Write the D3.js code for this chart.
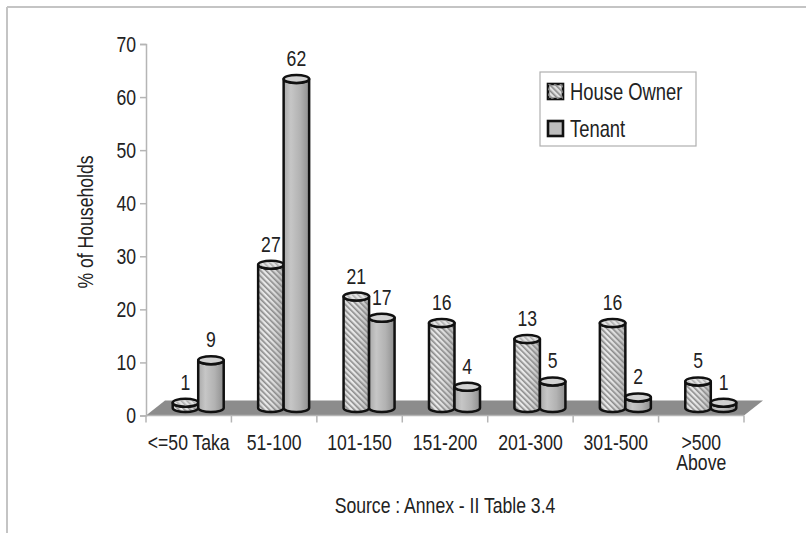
<!DOCTYPE html>
<html>
<head>
<meta charset="utf-8">
<script src="https://cdn.jsdelivr.net/npm/d3@7/dist/d3.min.js"></script>
<style>
  html, body { margin: 0; padding: 0; background: #fff; }
  svg { display: block; }
  text { font-family: "Liberation Sans", Arial, sans-serif; fill: #222; }
</style>
</head>
<body>
<svg id="chart" width="806" height="533"></svg>
<script>
// Monthly rent ranges and share of households per tenure group
const categories = ["<=50 Taka", "51-100", "101-150", "151-200", "201-300", "301-500", ">500\nAbove"];
const houseOwner = [1, 27, 21, 16, 13, 16, 5];
const tenant = [9, 62, 17, 4, 5, 2, 1];
const seriesNames = ["House Owner", "Tenant"];
const yTicks = [0, 10, 20, 30, 40, 50, 60, 70];
const sourceNote = "Source : Annex - II Table 3.4";
const yTitle = "% of Households";

const W = 806, H = 533;
const svg = d3.select("#chart");
const NARROW = 0.8; // horizontal squeeze giving a condensed sans face

// Squeeze text horizontally around its anchor point
function narrow(sel) {
  sel.each(function () {
    const t = d3.select(this);
    const tx = +(t.attr("x") || 0), ty = +(t.attr("y") || 0);
    const base = t.attr("transform") || "";
    t.attr("x", 0).attr("y", 0)
      .attr("transform", `${base} translate(${tx},${ty}) scale(${NARROW},1)`);
  });
  return sel;
}

// plot geometry
const plotL = 146, plotR = 744, plotT = 44, plotB = 415.5;
const depthX = 19, depthY = -15;              // floor receding offset
const barDX = depthX / 2, barDY = depthY / 2; // bars stand mid-depth
const capRy = 4;                              // ellipse half-height of cylinder caps

const x = d3.scaleBand().domain(categories).range([plotL, plotR]);
const y = d3.scaleLinear().domain([0, 70]).range([plotB, plotT]);
const barW = 25.5;

// ---- defs: gradients and hatch ----
const defs = svg.append("defs");
const gT = defs.append("linearGradient").attr("id", "gTenant").attr("x1", 0).attr("x2", 1).attr("y1", 0).attr("y2", 0);
[[0, "#a9a9a9"], [0.28, "#c6c6c6"], [0.65, "#b2b2b2"], [1, "#8f8f8f"]]
  .forEach(([o, c]) => gT.append("stop").attr("offset", o).attr("stop-color", c));
const gO = defs.append("linearGradient").attr("id", "gOwner").attr("x1", 0).attr("x2", 1).attr("y1", 0).attr("y2", 0);
[[0, "#d4d4d4"], [0.3, "#ececec"], [0.7, "#d6d6d6"], [1, "#b4b4b4"]]
  .forEach(([o, c]) => gO.append("stop").attr("offset", o).attr("stop-color", c));
const hatch = defs.append("pattern").attr("id", "hatch").attr("patternUnits", "userSpaceOnUse")
  .attr("width", 4).attr("height", 4).attr("patternTransform", "rotate(-45)");
hatch.append("rect").attr("x", 0).attr("y", 0).attr("width", 1.6).attr("height", 4).attr("fill", "#8a8a8a");

// ---- outer frame ----
svg.append("line").attr("x1", 7).attr("y1", 7).attr("x2", W).attr("y2", 7).attr("stroke", "#c4c4c4").attr("stroke-width", 2);
svg.append("line").attr("x1", 7).attr("y1", 7).attr("x2", 7).attr("y2", H).attr("stroke", "#c4c4c4").attr("stroke-width", 2);

// ---- floor ----
const floorPts = [[plotL, plotB], [plotR, plotB], [plotR + depthX, plotB + depthY], [plotL + depthX, plotB + depthY]];
svg.append("polygon").attr("points", floorPts.map(p => p.join(",")).join(" ")).attr("fill", "#8c8c8c");

// ---- y axis ----
const yAxis = d3.axisLeft(y).tickValues(yTicks).tickSize(6).tickPadding(4);
const gy = svg.append("g").attr("transform", `translate(${plotL},0)`).call(yAxis);
gy.select(".domain").attr("stroke", "#b5b5b5").attr("stroke-width", 1.5);
gy.selectAll(".tick line").attr("stroke", "#b5b5b5").attr("stroke-width", 1.5);
narrow(gy.selectAll(".tick text").attr("font-size", 22).attr("fill", "#222")
  .style("font-family", '"Liberation Sans", Arial, sans-serif'));

// ---- x axis (line at floor front, ticks at band boundaries) ----
svg.append("line").attr("x1", plotL).attr("x2", plotR).attr("y1", plotB).attr("y2", plotB)
  .attr("stroke", "#b5b5b5").attr("stroke-width", 1.5);
const bounds = categories.map(c => x(c)).concat([x(categories[categories.length - 1]) + x.bandwidth()]);
svg.selectAll(".xtick").data(bounds).enter().append("line")
  .attr("x1", d => d).attr("x2", d => d).attr("y1", plotB).attr("y2", plotB + 7)
  .attr("stroke", "#b5b5b5").attr("stroke-width", 1.5);
const xl = svg.selectAll(".xlab").data(categories).enter().append("text")
  .attr("text-anchor", "middle").attr("font-size", 22)
  .attr("transform", d => `translate(${x(d) + x.bandwidth() / 2},449.5) scale(${NARROW},1)`);
xl.selectAll("tspan").data(d => d.split("\n")).enter().append("tspan")
  .attr("x", 0).attr("dy", (d, i) => i === 0 ? 0 : 20.5).text(d => d);

// ---- cylinders ----
function cylinder(g, cx, value, bodyFill, overlay, capFill) {
  const yb = y(0) + barDY, yt = y(value) + barDY;
  const rx = barW / 2;
  const body = `M${cx - rx},${yt} L${cx - rx},${yb} A${rx},${capRy} 0 0 0 ${cx + rx},${yb} L${cx + rx},${yt} A${rx},${capRy} 0 0 1 ${cx - rx},${yt} Z`;
  g.append("path").attr("d", body).attr("fill", bodyFill);
  if (overlay) g.append("path").attr("d", body).attr("fill", overlay);
  g.append("path").attr("d", body).attr("fill", "none").attr("stroke", "#111").attr("stroke-width", 2.5).attr("stroke-linejoin", "round");
  g.append("ellipse").attr("cx", cx).attr("cy", yt).attr("rx", rx).attr("ry", capRy)
    .attr("fill", capFill).attr("stroke", "#111").attr("stroke-width", 2.5);
  if (overlay) g.append("ellipse").attr("cx", cx).attr("cy", yt).attr("rx", rx - 2).attr("ry", capRy - 1.5).attr("fill", overlay).attr("opacity", 0.6);
  narrow(g.append("text").attr("x", cx).attr("y", yt - 13).attr("text-anchor", "middle").attr("font-size", 22).text(value));
}

const bars = svg.append("g");
categories.forEach((c, i) => {
  const mid = x(c) + x.bandwidth() / 2 + barDX;
  cylinder(bars.append("g"), mid - barW / 2, houseOwner[i], "url(#gOwner)", "url(#hatch)", "#e4e4e4");
  cylinder(bars.append("g"), mid + barW / 2, tenant[i], "url(#gTenant)", null, "#d2d2d2");
});

// ---- legend ----
const lg = svg.append("g");
lg.append("rect").attr("x", 540).attr("y", 72).attr("width", 156).attr("height", 74)
  .attr("fill", "#fff").attr("stroke", "#b0b0b0").attr("stroke-width", 1.2);
seriesNames.forEach((name, i) => {
  const yy = 84 + i * 37;
  lg.append("rect").attr("x", 548).attr("y", yy).attr("width", 15).attr("height", 15)
    .attr("fill", i === 0 ? "#e2e2e2" : "#bdbdbd").attr("stroke", "#111").attr("stroke-width", 2.6);
  if (i === 0) lg.append("rect").attr("x", 548).attr("y", yy).attr("width", 15).attr("height", 15).attr("fill", "url(#hatch)");
  narrow(lg.append("text").attr("x", 570).attr("y", yy + 15.6).attr("font-size", 23).text(name));
});

// ---- titles ----
svg.append("text").attr("transform", "translate(93,222) rotate(-90) scale(" + NARROW + ",1)").attr("text-anchor", "middle")
  .attr("font-size", 22).text(yTitle);
narrow(svg.append("text").attr("x", 445).attr("y", 513).attr("text-anchor", "middle").attr("font-size", 22).text(sourceNote));
</script>
</body>
</html>
